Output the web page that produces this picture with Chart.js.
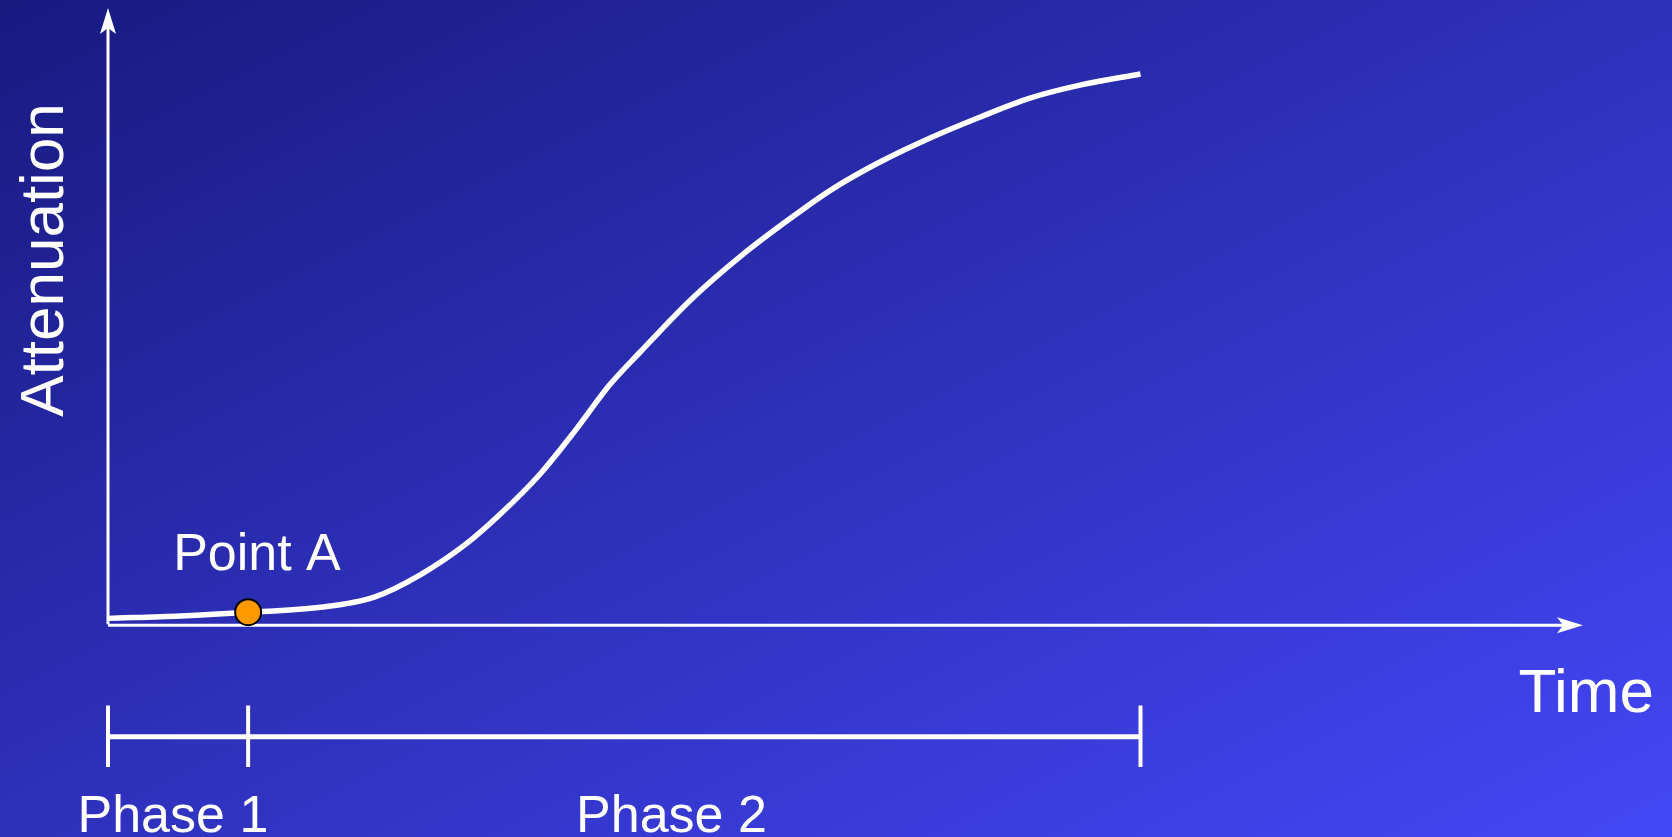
<!DOCTYPE html>
<html>
<head>
<meta charset="utf-8">
<script src="https://cdn.jsdelivr.net/npm/chart.js@4.4.1/dist/chart.umd.min.js"></script>
<style>
  html, body { margin: 0; padding: 0; overflow: hidden; background: #2e30bb; }
  #wrap { width: 1672px; height: 837px; position: relative; }
  canvas { display: block; }
</style>
</head>
<body>
<div id="wrap"><canvas id="c" width="1672" height="837"></canvas></div>
<script>
// Attenuation curve over time (arbitrary units)
const timeValues        = [0, 4.9, 9.6, 14.4, 18.0, 21.2, 24.3, 26.6, 29.3, 31.7, 34.0, 36.1, 39.5, 42.9, 46.2, 49.0, 52.3, 55.7, 59.1, 62.5, 65.9, 70];
const attenuationValues = [1.1, 1.5, 2.1, 2.9, 4.5, 8.2, 13.2, 18.0, 24.5, 31.6, 38.9, 44.3, 52.7, 59.8, 65.8, 70.5, 75.0, 78.9, 82.3, 85.4, 87.5, 89.3];

// Marked point on the curve
const markerTimes = [9.5];
const markerValues = [2.1];
const markerLabels = ['Point A'];

// Phase boundaries along the time axis and their names
const phaseBounds = [0, 9.5, 70];
const phaseNames = ['Phase 1', 'Phase 2'];
const phaseNameCenters = [4.4, 38.2];

const axisTitleX = 'Time';
const axisTitleY = 'Attenuation';

const FONT = '"Liberation Sans", Arial, Helvetica, sans-serif';
const PHASE_ROW = -18.1;      // y of the phase bar (below the time axis)
const TICK_TOP = -13, TICK_BOTTOM = -23;

const curveData = timeValues.map((t, i) => ({ x: t, y: attenuationValues[i] }));
const markerData = markerTimes.map((t, i) => ({ x: t, y: markerValues[i] }));

const phaseDatasets = [
  {
    type: 'line',
    data: [{ x: phaseBounds[0], y: PHASE_ROW }, { x: phaseBounds[phaseBounds.length - 1], y: PHASE_ROW }],
    borderColor: '#ffffff', borderWidth: 5, pointRadius: 0, tension: 0, borderCapStyle: 'butt', clip: false
  },
  ...phaseBounds.map(b => ({
    type: 'line',
    data: [{ x: b, y: TICK_TOP }, { x: b, y: TICK_BOTTOM }],
    borderColor: '#ffffff', borderWidth: 4, pointRadius: 0, tension: 0, borderCapStyle: 'butt', clip: false
  }))
];

// Diagonal blue background
const backgroundPlugin = {
  id: 'bg',
  beforeDraw(chart) {
    const { ctx, width, height } = chart;
    ctx.save();
    ctx.scale(width, height);
    const g = ctx.createLinearGradient(0, 0, 1, 1);
    g.addColorStop(0, '#181a80');
    g.addColorStop(1, '#4447f6');
    ctx.fillStyle = g;
    ctx.fillRect(0, 0, 1, 1);
    ctx.restore();
  }
};

function arrowHead(ctx, tx, ty, dx, dy, len, half, notch) {
  const px = -dy, py = dx;
  ctx.beginPath();
  ctx.moveTo(tx, ty);
  ctx.lineTo(tx - dx * len + px * half, ty - dy * len + py * half);
  ctx.lineTo(tx - dx * (len - notch), ty - dy * (len - notch));
  ctx.lineTo(tx - dx * len - px * half, ty - dy * len - py * half);
  ctx.closePath();
  ctx.fill();
}

// Axes with arrowheads, drawn under the data
const axesPlugin = {
  id: 'arrowAxes',
  beforeDatasetsDraw(chart) {
    const { ctx, scales: { x, y } } = chart;
    const x0 = x.getPixelForValue(0), xEnd = x.getPixelForValue(100);
    const y0 = y.getPixelForValue(0), yEnd = y.getPixelForValue(100);
    ctx.save();
    ctx.strokeStyle = '#ffffff';
    ctx.fillStyle = '#ffffff';
    ctx.lineWidth = 3;
    ctx.beginPath();
    ctx.moveTo(x0, y0 - 1);
    ctx.lineTo(x0, yEnd + 20);
    ctx.moveTo(x0, y0);
    ctx.lineTo(xEnd - 20, y0);
    ctx.stroke();
    arrowHead(ctx, x0, yEnd, 0, -1, 26, 8, 6);
    arrowHead(ctx, xEnd, y0, 1, 0, 26, 8, 6);
    ctx.restore();
  }
};

// Text labels
const labelsPlugin = {
  id: 'labels',
  afterDatasetsDraw(chart) {
    const { ctx, scales: { x, y } } = chart;
    ctx.save();
    ctx.fillStyle = '#ffffff';
    ctx.textBaseline = 'alphabetic';

    ctx.font = '52px ' + FONT;
    ctx.textAlign = 'center';
    markerLabels.forEach((txt, i) => {
      ctx.fillText(txt, x.getPixelForValue(markerTimes[i] + 0.6), y.getPixelForValue(markerValues[i]) - 42);
    });
    phaseNames.forEach((txt, i) => {
      ctx.fillText(txt, x.getPixelForValue(phaseNameCenters[i]), 832);
    });

    ctx.font = '62px ' + FONT;
    ctx.textAlign = 'right';
    ctx.fillText(axisTitleX, 1654, 712);

    ctx.font = '62px ' + FONT;
    ctx.textAlign = 'center';
    ctx.translate(63, 260);
    ctx.rotate(-Math.PI / 2);
    ctx.fillText(axisTitleY, 0, 0);
    ctx.restore();
  }
};

new Chart(document.getElementById('c'), {
  type: 'line',
  data: {
    datasets: [
      {
        type: 'scatter',
        data: markerData,
        pointRadius: 13,
        pointBackgroundColor: '#ff9900',
        pointBorderColor: '#000000',
        pointBorderWidth: 2,
        clip: false,
        order: 0
      },
      {
        type: 'line',
        data: curveData,
        borderColor: '#ffffff',
        borderWidth: 5.5,
        pointRadius: 0,
        cubicInterpolationMode: 'monotone',
        clip: false,
        order: 1
      },
      ...phaseDatasets.map(d => Object.assign(d, { order: 2 }))
    ]
  },
  options: {
    responsive: false,
    animation: false,
    events: [],
    layout: { autoPadding: false, padding: { left: 108, right: 89, top: 8, bottom: 2 } },
    scales: {
      x: { type: 'linear', min: 0, max: 100, display: false },
      y: { type: 'linear', min: -34, max: 100, display: false }
    },
    plugins: { legend: { display: false }, tooltip: { enabled: false } }
  },
  plugins: [backgroundPlugin, axesPlugin, labelsPlugin]
});
</script>
</body>
</html>
